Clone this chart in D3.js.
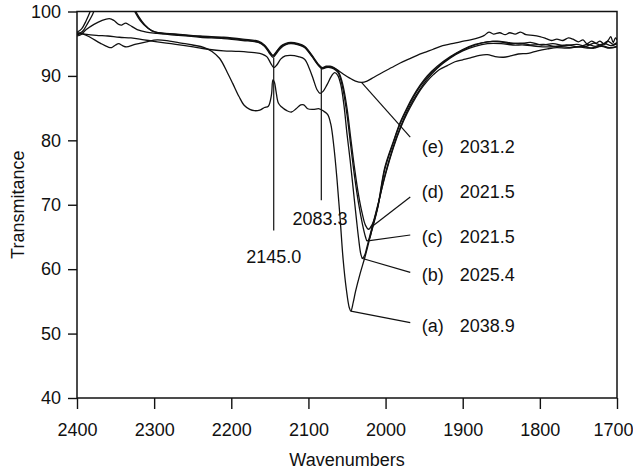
<!DOCTYPE html>
<html>
<head>
<meta charset="utf-8">
<script src="https://cdn.jsdelivr.net/npm/d3@7"></script>
<style>
  body { margin: 0; background: #fff; }
  svg { display: block; }
  text { font-family: "Liberation Sans", Arial, sans-serif; fill: #111; }
  .axis text { font-size: 18px; }
  .axis line { stroke: #111; stroke-width: 1.4; }
  .spectrum { fill: none; stroke: #111; stroke-width: 1.3; }
  .marker { stroke: #111; stroke-width: 1.2; }
</style>
</head>
<body>
<div id="chart"></div>
<script>
var svgWidth = 633;
var svgHeight = 469;

// tick values
var wavenumberTicks = [2400, 2300, 2200, 2100, 2000, 1900, 1800, 1700];
var transTicks = [40, 50, 60, 70, 80, 90, 100];

// spectra, [wavenumber, transmitance]
var curveA = [
  [2400,96.4],[2392,96.5],[2383,96.0],[2370,95.1],[2360,94.5],[2355,94.4],[2350,94.8],[2346,95.0],
  [2341,94.7],[2336,94.5],[2325,94.9],[2310,95.3],[2296,95.6],[2280,95.4],[2265,95.1],[2250,94.8],
  [2235,94.4],[2225,93.8],[2215,92.7],[2205,90.5],[2198,88.8],[2190,86.8],[2183,85.4],[2176,84.8],
  [2170,84.6],[2163,84.7],[2157,85.1],[2152,85.3],[2148,87.0],[2146,89.4],[2144,89.0],[2142,87.6],
  [2139,85.8],[2135,85.2],[2128,84.6],[2122,84.4],[2116,84.9],[2110,85.5],[2106,85.5],[2101,84.9],
  [2094,84.8],[2086,84.9],[2080,84.5],[2075,84.0],[2071,82.5],[2067,79.0],[2063,74.0],[2059,68.0],
  [2055,61.5],[2051,57.0],[2047,54.0],[2045,53.5],[2042,54.8],[2039,56.5],[2033,59.3],[2026,62.2],
  [2018,66.0],[2010,69.8],[2001,74.5],[1990,79.0],[1981,82.0],[1972,84.5],[1964,86.3],[1955,88.0],
  [1946,89.5],[1933,91.2],[1916,92.8],[1900,93.9],[1884,94.6],[1868,95.0],[1850,95.0],[1835,94.8],
  [1820,94.8],[1805,94.6],[1790,94.5],[1775,94.6],[1760,94.4],[1745,94.6],[1730,94.3],[1720,94.7],
  [1710,94.4],[1700,94.6]
];
var curveB = [
  [2400,96.7],[2390,96.5],[2375,96.3],[2360,96.2],[2345,96.0],[2330,95.9],[2313,95.6],[2296,95.3],
  [2278,95.0],[2260,94.7],[2244,94.4],[2228,94.1],[2210,93.9],[2190,93.8],[2170,93.6],[2160,93.4],
  [2154,93.0],[2149,92.0],[2145,91.3],[2141,91.7],[2136,92.6],[2130,93.1],[2123,93.2],[2113,93.0],
  [2105,92.6],[2099,91.2],[2094,89.6],[2089,87.9],[2085,87.3],[2081,87.6],[2076,88.6],[2070,90.0],
  [2066,90.5],[2062,90.1],[2058,88.6],[2054,85.5],[2050,81.0],[2046,77.0],[2042,72.5],[2038,68.0],
  [2035,64.8],[2032,62.3],[2030,61.7],[2027,62.2],[2024,63.5],[2018,66.3],[2010,70.0],[2001,74.3],
  [1990,78.8],[1981,81.8],[1972,84.2],[1964,86.0],[1955,87.8],[1946,89.2],[1938,90.2],[1930,91.0],
  [1920,91.6],[1910,92.2],[1900,92.5],[1890,92.8],[1878,93.2],[1868,93.3],[1858,93.0],[1847,92.9],
  [1838,93.1],[1828,93.4],[1815,93.5],[1803,93.9],[1790,94.2],[1778,94.4],[1765,94.3],[1750,94.5],
  [1735,94.3],[1720,94.6],[1710,94.3],[1700,94.5]
];
var curveC = [
  [2400,96.2],[2395,96.4],[2388,97.2],[2378,98.0],[2368,98.6],[2358,98.9],[2352,98.6],[2346,98.0],
  [2342,97.9],[2337,98.2],[2332,97.9],[2322,97.2],[2310,96.8],[2296,96.6],[2270,96.3],[2240,96.0],
  [2210,95.8],[2185,95.5],[2165,95.2],[2157,94.6],[2151,93.6],[2146,92.9],[2142,93.4],[2136,94.3],
  [2130,94.8],[2123,95.0],[2113,94.8],[2105,94.4],[2099,93.6],[2093,92.6],[2087,91.6],[2082,91.1],
  [2077,91.3],[2072,91.3],[2067,91.1],[2062,90.6],[2059,89.8],[2055,87.8],[2050,84.0],[2045,79.0],
  [2040,74.2],[2035,70.2],[2030,67.0],[2026,65.0],[2024,64.4],[2021,64.7],[2018,65.9],[2010,69.6],
  [2001,75.5],[1990,79.6],[1981,82.6],[1972,84.9],[1964,86.7],[1955,88.4],[1946,89.8],[1933,91.3],
  [1916,92.9],[1900,94.0],[1884,94.8],[1868,95.3],[1852,95.3],[1838,95.0],[1825,95.1],[1810,94.8],
  [1795,94.9],[1780,94.6],[1765,94.8],[1750,94.5],[1738,94.9],[1728,94.6],[1716,95.0],[1708,94.7],
  [1700,95.0]
];
var curveD = [
  [2400,96.5],[2393,96.9],[2386,98.2],[2380,99.5],[2373,101.5],[2362,103.5],[2350,104.5],[2338,103.5],
  [2328,101.0],[2320,99.2],[2312,97.9],[2303,97.0],[2295,96.7],[2270,96.4],[2240,96.1],[2210,95.9],
  [2185,95.6],[2165,95.3],[2157,94.7],[2151,93.8],[2146,93.1],[2142,93.6],[2136,94.5],[2130,94.9],
  [2123,95.1],[2113,94.9],[2105,94.5],[2099,93.7],[2093,92.7],[2087,91.7],[2082,91.2],[2077,91.4],
  [2072,91.4],[2067,91.2],[2062,90.8],[2059,90.1],[2055,88.4],[2050,85.0],[2045,80.2],[2040,75.5],
  [2035,71.5],[2030,68.5],[2026,66.8],[2022,66.2],[2019,66.6],[2015,67.6],[2010,69.8],[2001,75.8],
  [1990,79.8],[1981,82.8],[1972,85.1],[1964,86.9],[1955,88.6],[1946,90.0],[1933,91.5],[1916,93.0],
  [1900,94.1],[1884,94.9],[1868,95.3],[1855,95.4],[1842,95.2],[1828,95.0],[1812,95.2],[1798,94.8],
  [1783,95.0],[1768,94.7],[1752,94.9],[1740,94.6],[1730,95.1],[1720,94.8],[1712,95.4],[1705,94.9],
  [1700,95.2]
];
var curveE = [
  [2400,96.8],[2394,97.3],[2388,98.6],[2381,100.5],[2372,102.8],[2358,104.5],[2345,104.2],[2334,102.0],
  [2326,100.2],[2318,98.6],[2308,97.4],[2298,96.8],[2270,96.5],[2240,96.2],[2210,96.0],[2185,95.7],
  [2165,95.4],[2157,94.8],[2151,93.9],[2146,93.2],[2142,93.7],[2136,94.6],[2130,95.0],[2123,95.2],
  [2113,95.0],[2105,94.6],[2099,93.8],[2093,92.8],[2087,91.8],[2082,91.3],[2077,91.5],[2072,91.5],
  [2067,91.3],[2062,90.9],[2055,90.3],[2047,89.7],[2039,89.2],[2031,89.0],[2024,89.2],[2015,89.8],
  [2003,90.6],[1992,91.3],[1981,92.0],[1970,92.6],[1959,93.2],[1948,93.7],[1939,94.1],[1926,94.7],
  [1914,95.0],[1903,95.3],[1890,95.6],[1878,96.0],[1872,96.3],[1866,96.8],[1860,96.5],[1852,96.7],
  [1845,96.4],[1839,96.7],[1832,96.5],[1825,96.8],[1818,96.4],[1809,96.3],[1800,96.1],[1792,95.8],
  [1785,95.5],[1778,95.7],[1770,95.5],[1763,95.9],[1757,95.7],[1750,95.3],[1744,95.6],[1739,95.0],
  [1733,95.4],[1727,95.1],[1722,95.4],[1716,94.9],[1711,95.6],[1708,96.1],[1705,95.2],[1702,95.9],
  [1700,95.6]
];

// peak annotations
var peakNames = ["(a)", "(b)", "(c)", "(d)", "(e)"];
var peakValues = ["2038.9", "2025.4", "2021.5", "2021.5", "2031.2"];
var peakPoints = [[2045, 53.5], [2031, 61.7], [2023, 64.4], [2020, 66.4], [2031.2, 89.0]];
var leaderEndT = [51.7, 59.5, 65.3, 71.2, 80.5];
var labelT = [51.2, 59.1, 65.0, 72.0, 79.0];
var leaderEndV = 1968;
var nameV = 1953;
var valueV = 1904;

// vertical markers: [wavenumber, top, bottom]
var bandNames = ["2145.0", "2083.3"];
var bandLines = [[2145.0, 92.8, 66.0], [2083.3, 91.2, 70.7]];
var bandLabelT = [62.0, 67.9];
var bandLabelV = [2145.0, 2085];

var svg = d3.select("#chart").append("svg")
  .attr("width", svgWidth)
  .attr("height", svgHeight);

var x = d3.scaleLinear().domain([2400, 1700]).range([77, 617]);
var y = d3.scaleLinear().domain([40, 100]).range([398, 11.5]);

svg.append("clipPath").attr("id", "plot")
  .append("rect")
  .attr("x", x(2400)).attr("y", y(100))
  .attr("width", x(1700) - x(2400)).attr("height", y(40) - y(100));

// axes
var bottomAxis = d3.axisBottom(x).tickValues(wavenumberTicks).tickFormat(d3.format("d"))
  .tickSize(11).tickSizeOuter(0).tickPadding(14);
var leftAxis = d3.axisLeft(y).tickValues(transTicks).tickFormat(d3.format("d"))
  .tickSize(9).tickSizeOuter(0).tickPadding(7);

svg.append("g").attr("class", "axis")
  .attr("transform", `translate(0, ${y(40)})`)
  .call(bottomAxis)
  .call(g => g.select(".domain").remove())
  .call(g => g.selectAll(".tick text").filter(d => d === 1700)
    .attr("text-anchor", "end").attr("dx", "16"));
svg.append("g").attr("class", "axis")
  .attr("transform", `translate(${x(2400)}, 0)`)
  .call(leftAxis)
  .call(g => g.select(".domain").remove());

// frame
svg.append("rect")
  .attr("x", x(2400)).attr("y", y(100))
  .attr("width", x(1700) - x(2400)).attr("height", y(40) - y(100))
  .attr("fill", "none").attr("stroke", "#111").attr("stroke-width", 1.5);

// spectra
var line = d3.line()
  .x(d => x(d[0]))
  .y(d => y(d[1]))
  .curve(d3.curveCatmullRom.alpha(0.5));

svg.append("g").attr("clip-path", "url(#plot)")
  .selectAll("path")
  .data([curveA, curveB, curveC, curveD, curveE])
  .enter()
  .append("path")
  .attr("class", "spectrum")
  .attr("d", line);

// band markers
svg.selectAll(".band")
  .data(bandLines)
  .enter()
  .append("line")
  .attr("class", "marker")
  .attr("x1", d => x(d[0])).attr("x2", d => x(d[0]))
  .attr("y1", d => y(d[1])).attr("y2", d => y(d[2]));

svg.selectAll(".bandLabel")
  .data(bandNames)
  .enter()
  .append("text")
  .attr("x", (d, i) => x(bandLabelV[i]))
  .attr("y", (d, i) => y(bandLabelT[i]))
  .attr("dy", "0.35em")
  .attr("text-anchor", "middle")
  .attr("font-size", "18px")
  .text(d => d);

// peak leaders and labels
svg.selectAll(".leader")
  .data(peakPoints)
  .enter()
  .append("line")
  .attr("class", "marker")
  .attr("x1", d => x(d[0])).attr("y1", d => y(d[1]))
  .attr("x2", x(leaderEndV)).attr("y2", (d, i) => y(leaderEndT[i]));

svg.selectAll(".peakName")
  .data(peakNames)
  .enter()
  .append("text")
  .attr("x", x(nameV))
  .attr("y", (d, i) => y(labelT[i]))
  .attr("dy", "0.35em")
  .attr("font-size", "18px")
  .text(d => d);

svg.selectAll(".peakValue")
  .data(peakValues)
  .enter()
  .append("text")
  .attr("x", x(valueV))
  .attr("y", (d, i) => y(labelT[i]))
  .attr("dy", "0.35em")
  .attr("font-size", "18px")
  .text(d => d);

// axis titles
svg.append("text")
  .attr("transform", `translate(18, ${(y(40) + y(100)) / 2}) rotate(-90)`)
  .attr("dy", "0.35em")
  .attr("text-anchor", "middle")
  .attr("font-size", "18px")
  .text("Transmitance");
svg.append("text")
  .attr("x", (x(2400) + x(1700)) / 2)
  .attr("y", 466)
  .attr("text-anchor", "middle")
  .attr("font-size", "18px")
  .text("Wavenumbers");
</script>
</body>
</html>
